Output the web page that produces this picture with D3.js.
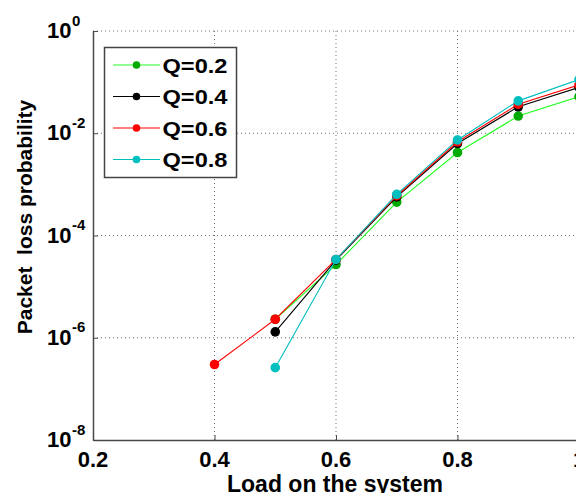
<!DOCTYPE html>
<html>
<head>
<meta charset="utf-8">
<script src="https://cdn.jsdelivr.net/npm/d3@7"></script>
<style>
  html, body { margin: 0; padding: 0; background: #fff; overflow: hidden; }
  svg { display: block; font-family: "Liberation Sans", Arial, Helvetica, sans-serif; font-weight: bold; }
</style>
</head>
<body>
<svg id="chart" width="576" height="493"></svg>
<script>
// Packet loss probability versus offered load, one series per Q value
const loads = [0.4, 0.5, 0.6, 0.7, 0.8, 0.9, 1.0];

const seriesNames = ["Q=0.2", "Q=0.4", "Q=0.6", "Q=0.8"];
const lossQ02 = [null, 2.3e-6, 2.7e-5, 4.5e-4, 4.2e-3, 0.0217, 0.052];
const lossQ04 = [null, 1.3e-6, 3.3e-5, 5.7e-4, 6.3e-3, 0.033, 0.079];
const lossQ06 = [3.0e-7, 2.3e-6, 3.4e-5, 6.0e-4, 6.8e-3, 0.037, 0.088];
const lossQ08 = [null, 2.6e-7, 3.4e-5, 6.4e-4, 7.4e-3, 0.043, 0.112];

const xTicks = [0.2, 0.4, 0.6, 0.8, 1.0];
const xTickLabels = ["0.2", "0.4", "0.6", "0.8", "1"];
const yTickExponents = [0, -2, -4, -6, -8];

const lineColors = ["#22ff22", "#000000", "#ff0000", "#00bfbf"];
const markerColors = ["#00aa00", "#000000", "#ff0000", "#00bfbf"];

const svg = d3.select("#chart");
const plot = { left: 93, right: 579, top: 31, bottom: 440 };

const x = d3.scaleLinear().domain([0.2, 1.0]).range([plot.left, plot.right]);
const y = d3.scaleLog().domain([1e-8, 1]).range([plot.bottom, plot.top]);

// dotted grid
const grid = svg.append("g").attr("stroke", "#6e6e6e").attr("stroke-width", 1)
  .attr("stroke-dasharray", "1,3");
xTicks.slice(1).forEach(v => {
  grid.append("line").attr("x1", x(v)).attr("x2", x(v))
    .attr("y1", plot.top).attr("y2", plot.bottom);
});
yTickExponents.slice(0, -1).forEach(e => {
  grid.append("line").attr("x1", plot.left).attr("x2", plot.right)
    .attr("y1", y(Math.pow(10, e))).attr("y2", y(Math.pow(10, e)));
});

// axes with inward ticks
const xAxis = d3.axisBottom(x).tickValues(xTicks).tickSizeInner(-5).tickSizeOuter(0).tickFormat("");
const yAxis = d3.axisLeft(y).tickValues(yTickExponents.map(e => Math.pow(10, e)))
  .tickSizeInner(-5).tickSizeOuter(0).tickFormat("");

const gx = svg.append("g").attr("transform", `translate(0,${plot.bottom})`).call(xAxis);
const gy = svg.append("g").attr("transform", `translate(${plot.left},0)`).call(yAxis);
[gx, gy].forEach(g => {
  g.select(".domain").attr("stroke", "#4a4a4a").attr("stroke-width", 1.5);
  g.selectAll(".tick line").attr("stroke", "#4a4a4a").attr("stroke-width", 1);
});

// x tick labels
svg.append("g").selectAll("text").data(xTicks).join("text")
  .attr("x", d => x(d)).attr("y", 467)
  .attr("text-anchor", "middle").attr("font-size", 22).attr("fill", "#000")
  .text((d, i) => xTickLabels[i]);

// y tick labels as powers of ten
const yl = svg.append("g").attr("fill", "#000");
yTickExponents.forEach(e => {
  const ty = y(Math.pow(10, e));
  yl.append("text").attr("x", 47).attr("y", ty + 7).attr("font-size", 22).text("10");
  yl.append("text").attr("x", 72).attr("y", ty - 5.5).attr("font-size", 15).text(String(e));
});

// axis titles
svg.append("text").attr("x", 335).attr("y", 491.5).attr("text-anchor", "middle")
  .attr("font-size", 23).attr("fill", "#000").text("Load on the system");
svg.append("text").attr("transform", "translate(32,217) rotate(-90)")
  .attr("text-anchor", "middle").attr("font-size", 21).attr("fill", "#000")
  .attr("xml:space", "preserve").style("white-space", "pre")
  .text("Packet  loss probability");

// series
const allSeries = [lossQ02, lossQ04, lossQ06, lossQ08];
const line = d3.line().defined(d => d.v != null).x(d => x(d.load)).y(d => y(d.v));
svg.append("defs").append("clipPath").attr("id", "plotclip")
  .append("rect").attr("x", 0).attr("y", 0).attr("width", 576).attr("height", plot.bottom + 1);

const series = svg.append("g").attr("clip-path", "url(#plotclip)");
allSeries.forEach((vals, i) => {
  const pts = loads.map((load, j) => ({ load, v: vals[j] }));
  series.append("path").datum(pts).attr("d", line)
    .attr("fill", "none").attr("stroke", lineColors[i]).attr("stroke-width", 1.1);
  series.append("g").selectAll("circle").data(pts.filter(d => d.v != null)).join("circle")
    .attr("cx", d => x(d.load)).attr("cy", d => y(d.v)).attr("r", 4.8)
    .attr("fill", markerColors[i]);
});

// legend
const legend = svg.append("g");
legend.append("rect").attr("x", 104.5).attr("y", 47.5).attr("width", 132).attr("height", 130)
  .attr("fill", "#fff").attr("stroke", "#444").attr("stroke-width", 1.5);
seriesNames.forEach((name, i) => {
  const ry = 65 + i * 31.5;
  legend.append("line").attr("x1", 113).attr("x2", 160).attr("y1", ry).attr("y2", ry)
    .attr("stroke", lineColors[i]).attr("stroke-width", 1.1);
  legend.append("circle").attr("cx", 136.5).attr("cy", ry).attr("r", 3.8).attr("fill", markerColors[i]);
  legend.append("text").attr("x", 162.5).attr("y", ry + 7.8).attr("font-size", 21)
    .attr("textLength", 65).attr("lengthAdjust", "spacingAndGlyphs")
    .attr("fill", "#000").text(name);
});
</script>
</body>
</html>
